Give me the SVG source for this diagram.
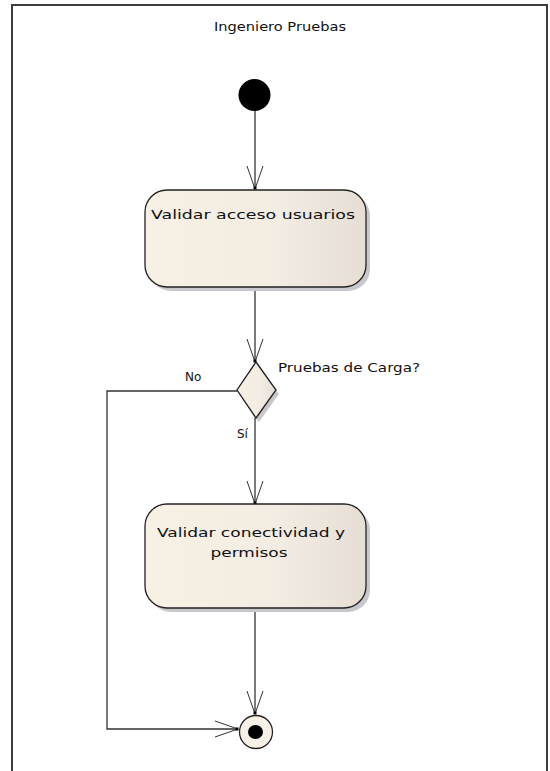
<svg xmlns="http://www.w3.org/2000/svg" width="550" height="771" viewBox="0 0 550 771">
  <defs>
    <linearGradient id="actFill" x1="0" y1="0" x2="1" y2="0">
      <stop offset="0" stop-color="#f7f0e4"/>
      <stop offset="0.6" stop-color="#f3ece2"/>
      <stop offset="1" stop-color="#e6ded5"/>
    </linearGradient>
    <!-- open V arrowhead, drawn along +x so orient="auto" follows the line -->
    <marker id="openArrow" markerWidth="28" markerHeight="20" refX="25" refY="10" orient="auto" markerUnits="userSpaceOnUse" viewBox="0 0 28 20">
      <path d="M2,2 L25,10 L2,18" fill="none" stroke="#333" stroke-width="1"/>
      <rect x="22.5" y="8.5" width="3" height="3" fill="#000"/>
    </marker>
    <style>
      .frame { fill: none; stroke: #3c3c3c; stroke-width: 2; }
      .act { fill: url(#actFill); stroke: #222; stroke-width: 1.3; }
      .shadow { fill: #c8c8cc; }
      .edge { fill: none; stroke: #333; stroke-width: 1.3; }
      .lbl { font-family: "DejaVu Sans", "Liberation Sans", sans-serif; font-size: 13px; fill: #111; }
      .small { font-family: "DejaVu Sans", "Liberation Sans", sans-serif; font-size: 12px; fill: #111; }
    </style>
  </defs>

  <rect width="550" height="771" fill="#fff"/>

  <!-- swimlane frame, open at the bottom -->
  <path class="frame" d="M12,790 L12,5 L547,5 L547,790"/>
  <text class="small" x="280" y="31" text-anchor="middle" textLength="132" lengthAdjust="spacingAndGlyphs">Ingeniero Pruebas</text>

  <!-- connectors -->
  <g id="connectors">
    <line class="edge" x1="255" y1="110" x2="255" y2="189" marker-end="url(#openArrow)"/>
    <line class="edge" x1="255" y1="288" x2="255" y2="362" marker-end="url(#openArrow)"/>
    <line class="edge" x1="255" y1="418" x2="255" y2="504" marker-end="url(#openArrow)"/>
    <line class="edge" x1="255" y1="608" x2="255" y2="714" marker-end="url(#openArrow)"/>
    <polyline class="edge" points="237,391 107,391 107,729 238,729" marker-end="url(#openArrow)"/>
    <text class="small" x="185" y="381">No</text>
    <text class="small" x="237" y="438">Sí</text>
  </g>

  <!-- initial node -->
  <g id="start">
    <circle cx="254.5" cy="95" r="16" fill="#000"/>
  </g>

  <!-- action: Validar acceso usuarios -->
  <g id="act-acceso">
    <rect class="shadow" x="149" y="194" width="221" height="97" rx="22"/>
    <rect class="act" x="145" y="190" width="221" height="97" rx="22"/>
    <text class="lbl" x="151" y="219" textLength="204" lengthAdjust="spacingAndGlyphs">Validar acceso usuarios</text>
  </g>

  <!-- decision -->
  <g id="decision">
    <polygon class="shadow" points="259,366 279,394 259,422 240,394"/>
    <polygon points="256,362 276,390 256,418 237,390" fill="url(#actFill)" stroke="#222" stroke-width="1.3"/>
    <text class="small" x="278" y="372" textLength="142" lengthAdjust="spacingAndGlyphs">Pruebas de Carga?</text>
  </g>

  <!-- action: Validar conectividad y permisos -->
  <g id="act-conectividad">
    <rect class="shadow" x="149" y="508" width="221" height="104" rx="22"/>
    <rect class="act" x="145" y="504" width="221" height="104" rx="22"/>
    <text class="lbl" x="251" y="537" text-anchor="middle" textLength="188" lengthAdjust="spacingAndGlyphs">Validar conectividad y</text>
    <text class="lbl" x="249" y="557" text-anchor="middle" textLength="77" lengthAdjust="spacingAndGlyphs">permisos</text>
  </g>

  <!-- final node -->
  <g id="end">
    <circle cx="256" cy="732" r="16.5" fill="#f6f0e6" stroke="#222" stroke-width="1.3"/>
    <ellipse cx="255.5" cy="732" rx="7.5" ry="7" fill="#000"/>
  </g>
</svg>
